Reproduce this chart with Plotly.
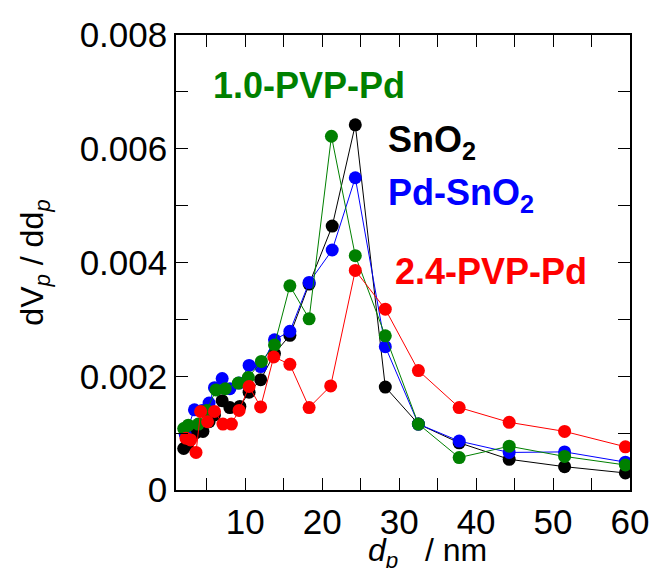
import plotly.graph_objects as go

# pore diameter (nm) and dV/dd values
x_sno2 = [2.0, 2.5, 3.5, 4.5, 5.3, 6.0, 7.0, 8.0, 9.3, 10.5, 12.0, 13.8, 15.8, 18.3, 21.3, 24.3, 28.2, 32.5, 37.8, 44.3, 51.5, 59.4]
y_sno2 = [0.00073, 0.00080, 0.00100, 0.00103, 0.00120, 0.00132, 0.00157, 0.00145, 0.00147, 0.00172, 0.00194, 0.00240, 0.00272, 0.00362, 0.00464, 0.00642, 0.00181, 0.00116, 0.00083, 0.00054, 0.00041, 0.00030]

x_pdsno2 = [2.2, 3.4, 4.4, 5.3, 6.0, 7.0, 8.0, 9.2, 10.5, 12.0, 13.8, 15.8, 18.3, 21.3, 24.3, 28.2, 32.5, 37.8, 44.3, 51.5, 59.4]
y_pdsno2 = [0.00098, 0.00141, 0.00140, 0.00153, 0.00180, 0.00196, 0.00178, 0.00188, 0.00219, 0.00217, 0.00264, 0.00279, 0.00365, 0.00422, 0.00549, 0.00252, 0.00116, 0.00086, 0.00066, 0.00067, 0.00049]

x_pvp10 = [2.0, 2.6, 3.9, 5.0, 6.2, 7.4, 9.1, 10.4, 12.1, 13.8, 15.8, 18.3, 21.2, 24.3, 28.2, 32.5, 37.8, 44.3, 51.5, 59.4]
y_pvp10 = [0.00108, 0.00114, 0.00116, 0.00140, 0.00176, 0.00178, 0.00188, 0.00198, 0.00226, 0.00255, 0.00359, 0.00301, 0.00622, 0.00412, 0.00271, 0.00116, 0.00057, 0.00077, 0.00059, 0.00044]

x_pvp24 = [2.3, 2.9, 3.6, 4.2, 5.1, 6.0, 7.1, 8.2, 9.2, 10.5, 12.0, 13.7, 15.8, 18.3, 21.1, 24.3, 28.2, 32.5, 37.8, 44.3, 51.5, 59.4]
y_pvp24 = [0.00091, 0.00088, 0.00066, 0.00138, 0.00120, 0.00138, 0.00116, 0.00116, 0.00140, 0.00182, 0.00146, 0.00234, 0.00221, 0.00145, 0.00183, 0.00386, 0.00318, 0.00210, 0.00145, 0.00119, 0.00103, 0.00076]

x_ticks = [10, 20, 30, 40, 50, 60]
y_ticks = [0, 0.002, 0.004, 0.006, 0.008]
y_tick_text = ["0", "0.002", "0.004", "0.006", "0.008"]

FONT = "Liberation Sans, Arial, sans-serif"

series = [
    ("SnO<sub>2</sub>", x_sno2, y_sno2, "black"),
    ("Pd-SnO<sub>2</sub>", x_pdsno2, y_pdsno2, "blue"),
    ("1.0-PVP-Pd", x_pvp10, y_pvp10, "green"),
    ("2.4-PVP-Pd", x_pvp24, y_pvp24, "red"),
]

fig = go.Figure()
for name, xs, ys, col in series:
    fig.add_trace(go.Scatter(
        x=xs, y=ys, mode="lines+markers", name=name,
        line=dict(color=col, width=1),
        marker=dict(color=col, size=13),
    ))

labels = [
    ("<b>1.0-PVP-Pd</b>", 5.6, 0.00712, "green"),
    ("<b>SnO<sub>2</sub></b>", 28.3, 0.00612, "black"),
    ("<b>Pd-SnO<sub>2</sub></b>", 28.3, 0.00518, "blue"),
    ("<b>2.4-PVP-Pd</b>", 29.2, 0.00384, "red"),
]
for txt, xx, yy, col in labels:
    fig.add_annotation(x=xx, y=yy, xref="x", yref="y", text=txt, showarrow=False,
                       xanchor="left", yanchor="middle",
                       font=dict(family=FONT, size=36, color=col))

# x-axis title placed below the tick labels
fig.add_annotation(x=0.555, y=-0.137, xref="paper", yref="paper",
                   text="<i>d</i><sub><i>p</i></sub>&nbsp;&nbsp;&nbsp;/ nm", showarrow=False,
                   xanchor="center", yanchor="middle",
                   font=dict(family=FONT, size=32, color="black"))

axis_common = dict(
    showline=True, linecolor="black", linewidth=1.5, mirror="ticks",
    ticks="inside", ticklen=12, tickwidth=1.2, tickcolor="black",
    showgrid=False, zeroline=False, automargin=False,
    tickfont=dict(family=FONT, size=35, color="black"),
)

fig.update_xaxes(
    range=[1, 60], tickvals=x_ticks,
    minor=dict(ticks="inside", ticklen=12, tickwidth=1.2, tickcolor="black", dtick=5, tick0=0, showgrid=False),
    **axis_common,
)
fig.update_yaxes(
    range=[0, 0.008], tickvals=y_ticks, ticktext=y_tick_text,
    minor=dict(ticks="inside", ticklen=12, tickwidth=1.2, tickcolor="black", dtick=0.001, tick0=0, showgrid=False),
    title=dict(text="dV<sub><i>p</i></sub> / dd<sub><i>p</i></sub>", font=dict(family=FONT, size=32, color="black"), standoff=26),
    **axis_common,
)

fig.update_layout(
    width=651, height=568,
    margin=dict(l=176, r=21, t=35, b=78),
    plot_bgcolor="white", paper_bgcolor="white",
    showlegend=False,
    font=dict(family=FONT, color="black"),
)

fig.write_html("out.html")
